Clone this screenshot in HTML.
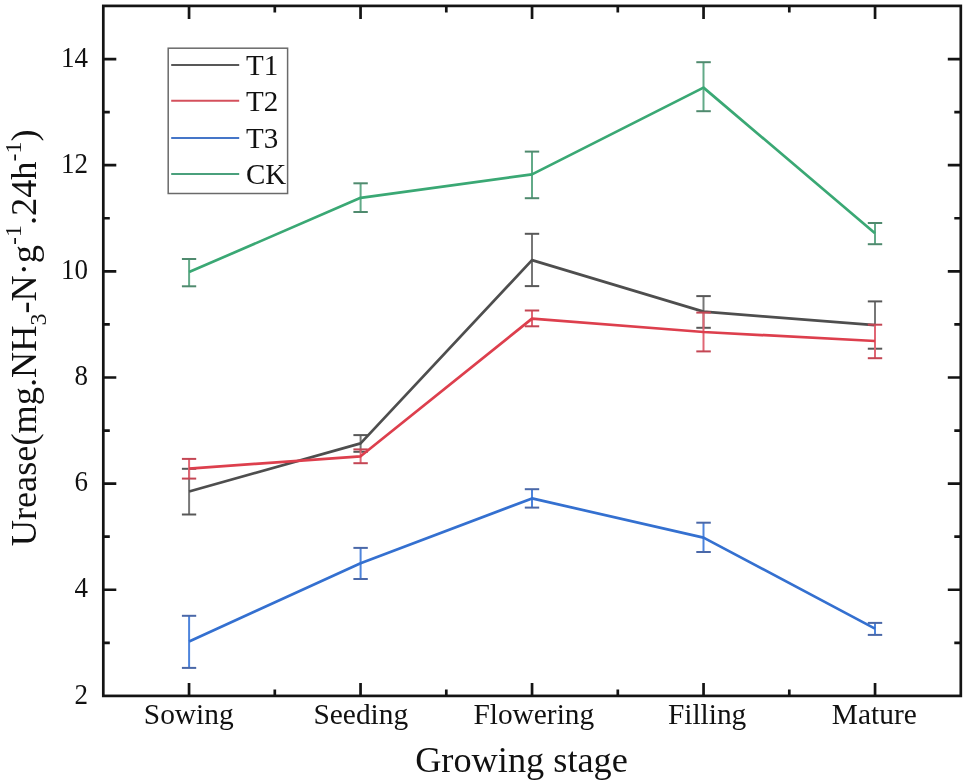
<!DOCTYPE html><html><head><meta charset="utf-8"><style>
html,body{margin:0;padding:0;background:#fff;}
svg{display:block;filter:blur(0.45px);}
text{font-family:"Liberation Serif",serif;fill:#111;}
</style></head><body>
<svg width="967" height="784" viewBox="0 0 967 784">
<rect width="967" height="784" fill="#fff"/>
<line x1="189.1" y1="468.8" x2="189.1" y2="514.5" stroke="#777777" stroke-width="2.0"/>
<line x1="181.9" y1="468.8" x2="196.2" y2="468.8" stroke="#585858" stroke-width="2.0"/>
<line x1="181.9" y1="514.5" x2="196.2" y2="514.5" stroke="#585858" stroke-width="2.0"/>
<line x1="360.6" y1="435.1" x2="360.6" y2="451.8" stroke="#777777" stroke-width="2.0"/>
<line x1="353.4" y1="435.1" x2="367.8" y2="435.1" stroke="#585858" stroke-width="2.0"/>
<line x1="353.4" y1="451.8" x2="367.8" y2="451.8" stroke="#585858" stroke-width="2.0"/>
<line x1="532.0" y1="233.8" x2="532.0" y2="286.1" stroke="#777777" stroke-width="2.0"/>
<line x1="524.8" y1="233.8" x2="539.2" y2="233.8" stroke="#585858" stroke-width="2.0"/>
<line x1="524.8" y1="286.1" x2="539.2" y2="286.1" stroke="#585858" stroke-width="2.0"/>
<line x1="703.5" y1="296.1" x2="703.5" y2="327.8" stroke="#777777" stroke-width="2.0"/>
<line x1="696.3" y1="296.1" x2="710.8" y2="296.1" stroke="#585858" stroke-width="2.0"/>
<line x1="696.3" y1="327.8" x2="710.8" y2="327.8" stroke="#585858" stroke-width="2.0"/>
<line x1="875.0" y1="301.4" x2="875.0" y2="348.7" stroke="#777777" stroke-width="2.0"/>
<line x1="867.8" y1="301.4" x2="882.2" y2="301.4" stroke="#585858" stroke-width="2.0"/>
<line x1="867.8" y1="348.7" x2="882.2" y2="348.7" stroke="#585858" stroke-width="2.0"/>
<polyline points="189.1,491.5 360.6,443.4 532.0,260.1 703.5,311.6 875.0,325.2" fill="none" stroke="#4e4e4e" stroke-width="2.7" stroke-linejoin="round"/>
<line x1="189.1" y1="458.9" x2="189.1" y2="478.6" stroke="#e06674" stroke-width="2.0"/>
<line x1="181.9" y1="458.9" x2="196.2" y2="458.9" stroke="#c44654" stroke-width="2.0"/>
<line x1="181.9" y1="478.6" x2="196.2" y2="478.6" stroke="#c44654" stroke-width="2.0"/>
<line x1="360.6" y1="449.4" x2="360.6" y2="463.2" stroke="#e06674" stroke-width="2.0"/>
<line x1="353.4" y1="449.4" x2="367.8" y2="449.4" stroke="#c44654" stroke-width="2.0"/>
<line x1="353.4" y1="463.2" x2="367.8" y2="463.2" stroke="#c44654" stroke-width="2.0"/>
<line x1="532.0" y1="310.5" x2="532.0" y2="326.3" stroke="#e06674" stroke-width="2.0"/>
<line x1="524.8" y1="310.5" x2="539.2" y2="310.5" stroke="#c44654" stroke-width="2.0"/>
<line x1="524.8" y1="326.3" x2="539.2" y2="326.3" stroke="#c44654" stroke-width="2.0"/>
<line x1="703.5" y1="312.6" x2="703.5" y2="351.4" stroke="#e06674" stroke-width="2.0"/>
<line x1="696.3" y1="312.6" x2="710.8" y2="312.6" stroke="#c44654" stroke-width="2.0"/>
<line x1="696.3" y1="351.4" x2="710.8" y2="351.4" stroke="#c44654" stroke-width="2.0"/>
<line x1="875.0" y1="324.7" x2="875.0" y2="358.2" stroke="#e06674" stroke-width="2.0"/>
<line x1="867.8" y1="324.7" x2="882.2" y2="324.7" stroke="#c44654" stroke-width="2.0"/>
<line x1="867.8" y1="358.2" x2="882.2" y2="358.2" stroke="#c44654" stroke-width="2.0"/>
<polyline points="189.1,468.6 360.6,456.3 532.0,318.6 703.5,332.0 875.0,341.0" fill="none" stroke="#dd3f4d" stroke-width="2.7" stroke-linejoin="round"/>
<line x1="189.1" y1="615.8" x2="189.1" y2="667.9" stroke="#4d84dc" stroke-width="2.0"/>
<line x1="181.9" y1="615.8" x2="196.2" y2="615.8" stroke="#4a68a8" stroke-width="2.0"/>
<line x1="181.9" y1="667.9" x2="196.2" y2="667.9" stroke="#4a68a8" stroke-width="2.0"/>
<line x1="360.6" y1="547.9" x2="360.6" y2="579.0" stroke="#4d84dc" stroke-width="2.0"/>
<line x1="353.4" y1="547.9" x2="367.8" y2="547.9" stroke="#4a68a8" stroke-width="2.0"/>
<line x1="353.4" y1="579.0" x2="367.8" y2="579.0" stroke="#4a68a8" stroke-width="2.0"/>
<line x1="532.0" y1="489.2" x2="532.0" y2="507.6" stroke="#4d84dc" stroke-width="2.0"/>
<line x1="524.8" y1="489.2" x2="539.2" y2="489.2" stroke="#4a68a8" stroke-width="2.0"/>
<line x1="524.8" y1="507.6" x2="539.2" y2="507.6" stroke="#4a68a8" stroke-width="2.0"/>
<line x1="703.5" y1="522.7" x2="703.5" y2="552.0" stroke="#4d84dc" stroke-width="2.0"/>
<line x1="696.3" y1="522.7" x2="710.8" y2="522.7" stroke="#4a68a8" stroke-width="2.0"/>
<line x1="696.3" y1="552.0" x2="710.8" y2="552.0" stroke="#4a68a8" stroke-width="2.0"/>
<line x1="875.0" y1="622.9" x2="875.0" y2="634.9" stroke="#4d84dc" stroke-width="2.0"/>
<line x1="867.8" y1="622.9" x2="882.2" y2="622.9" stroke="#4a68a8" stroke-width="2.0"/>
<line x1="867.8" y1="634.9" x2="882.2" y2="634.9" stroke="#4a68a8" stroke-width="2.0"/>
<polyline points="189.1,641.6 360.6,563.2 532.0,498.4 703.5,537.6 875.0,628.6" fill="none" stroke="#3470d0" stroke-width="2.7" stroke-linejoin="round"/>
<line x1="189.1" y1="259.0" x2="189.1" y2="286.3" stroke="#62aa88" stroke-width="2.0"/>
<line x1="181.9" y1="259.0" x2="196.2" y2="259.0" stroke="#4f8a6e" stroke-width="2.0"/>
<line x1="181.9" y1="286.3" x2="196.2" y2="286.3" stroke="#4f8a6e" stroke-width="2.0"/>
<line x1="360.6" y1="183.3" x2="360.6" y2="212.0" stroke="#62aa88" stroke-width="2.0"/>
<line x1="353.4" y1="183.3" x2="367.8" y2="183.3" stroke="#4f8a6e" stroke-width="2.0"/>
<line x1="353.4" y1="212.0" x2="367.8" y2="212.0" stroke="#4f8a6e" stroke-width="2.0"/>
<line x1="532.0" y1="151.6" x2="532.0" y2="198.2" stroke="#62aa88" stroke-width="2.0"/>
<line x1="524.8" y1="151.6" x2="539.2" y2="151.6" stroke="#4f8a6e" stroke-width="2.0"/>
<line x1="524.8" y1="198.2" x2="539.2" y2="198.2" stroke="#4f8a6e" stroke-width="2.0"/>
<line x1="703.5" y1="62.2" x2="703.5" y2="111.2" stroke="#62aa88" stroke-width="2.0"/>
<line x1="696.3" y1="62.2" x2="710.8" y2="62.2" stroke="#4f8a6e" stroke-width="2.0"/>
<line x1="696.3" y1="111.2" x2="710.8" y2="111.2" stroke="#4f8a6e" stroke-width="2.0"/>
<line x1="875.0" y1="223.0" x2="875.0" y2="244.2" stroke="#62aa88" stroke-width="2.0"/>
<line x1="867.8" y1="223.0" x2="882.2" y2="223.0" stroke="#4f8a6e" stroke-width="2.0"/>
<line x1="867.8" y1="244.2" x2="882.2" y2="244.2" stroke="#4f8a6e" stroke-width="2.0"/>
<polyline points="189.1,272.1 360.6,197.8 532.0,174.4 703.5,87.6 875.0,233.2" fill="none" stroke="#3aa874" stroke-width="2.7" stroke-linejoin="round"/>
<rect x="103.3" y="5.9" width="857.5" height="690.0" fill="none" stroke="#141414" stroke-width="2.7"/>
<path d="M103.3,642.83h6.5M960.8,642.83h-6.5M103.3,589.76h13M960.8,589.76h-13M103.3,536.69h6.5M960.8,536.69h-6.5M103.3,483.62h13M960.8,483.62h-13M103.3,430.55h6.5M960.8,430.55h-6.5M103.3,377.48h13M960.8,377.48h-13M103.3,324.41h6.5M960.8,324.41h-6.5M103.3,271.34h13M960.8,271.34h-13M103.3,218.27h6.5M960.8,218.27h-6.5M103.3,165.20h13M960.8,165.20h-13M103.3,112.13h6.5M960.8,112.13h-6.5M103.3,59.06h13M960.8,59.06h-13M189.05,695.9v-13M189.05,5.9v13M360.55,695.9v-13M360.55,5.9v13M532.05,695.9v-13M532.05,5.9v13M703.55,695.9v-13M703.55,5.9v13M875.05,695.9v-13M875.05,5.9v13M274.80,695.9v-6.5M274.80,5.9v6.5M446.30,695.9v-6.5M446.30,5.9v6.5M617.80,695.9v-6.5M617.80,5.9v6.5M789.30,695.9v-6.5M789.30,5.9v6.5" stroke="#141414" stroke-width="2.7" fill="none"/>
<text transform="translate(88,703.5) scale(1,1.07)" font-size="27" text-anchor="end">2</text>
<text transform="translate(88,597.4) scale(1,1.07)" font-size="27" text-anchor="end">4</text>
<text transform="translate(88,491.2) scale(1,1.07)" font-size="27" text-anchor="end">6</text>
<text transform="translate(88,385.1) scale(1,1.07)" font-size="27" text-anchor="end">8</text>
<text transform="translate(88,278.9) scale(1,1.07)" font-size="27" text-anchor="end">10</text>
<text transform="translate(88,172.8) scale(1,1.07)" font-size="27" text-anchor="end">12</text>
<text transform="translate(88,66.7) scale(1,1.07)" font-size="27" text-anchor="end">14</text>
<text x="188.7" y="723.6" font-size="29.4" text-anchor="middle">Sowing</text>
<text x="360.8" y="723.6" font-size="29.4" text-anchor="middle">Seeding</text>
<text x="533.8" y="723.6" font-size="29.4" text-anchor="middle">Flowering</text>
<text x="707.1" y="723.6" font-size="29.4" text-anchor="middle">Filling</text>
<text x="874.3" y="723.6" font-size="29.4" text-anchor="middle">Mature</text>
<text x="521.5" y="771.5" font-size="36.3" text-anchor="middle">Growing stage</text>
<text transform="translate(36.3,337.85) rotate(-90)" font-size="36.3" text-anchor="middle">Urease(mg.NH<tspan font-size="24" dy="10">3</tspan><tspan dy="-10">-N·g</tspan><tspan font-size="24" dy="-15">-1</tspan><tspan dy="15">.24h</tspan><tspan font-size="24" dy="-15">-1</tspan><tspan dy="15">)</tspan></text>
<rect x="168.2" y="48.2" width="119.4" height="145.3" fill="#fff" stroke="#6a6a6a" stroke-width="1.5"/>
<line x1="171.2" y1="64.9" x2="239.2" y2="64.9" stroke="#585858" stroke-width="2"/>
<text x="246" y="74.9" font-size="29">T1</text>
<line x1="171.2" y1="100.8" x2="239.2" y2="100.8" stroke="#d4505c" stroke-width="2"/>
<text x="246" y="110.8" font-size="29">T2</text>
<line x1="171.2" y1="138.0" x2="239.2" y2="138.0" stroke="#4576c8" stroke-width="2"/>
<text x="246" y="148.0" font-size="29">T3</text>
<line x1="171.2" y1="174.1" x2="239.2" y2="174.1" stroke="#4aa07c" stroke-width="2"/>
<text x="246" y="184.1" font-size="29">CK</text>
</svg></body></html>
